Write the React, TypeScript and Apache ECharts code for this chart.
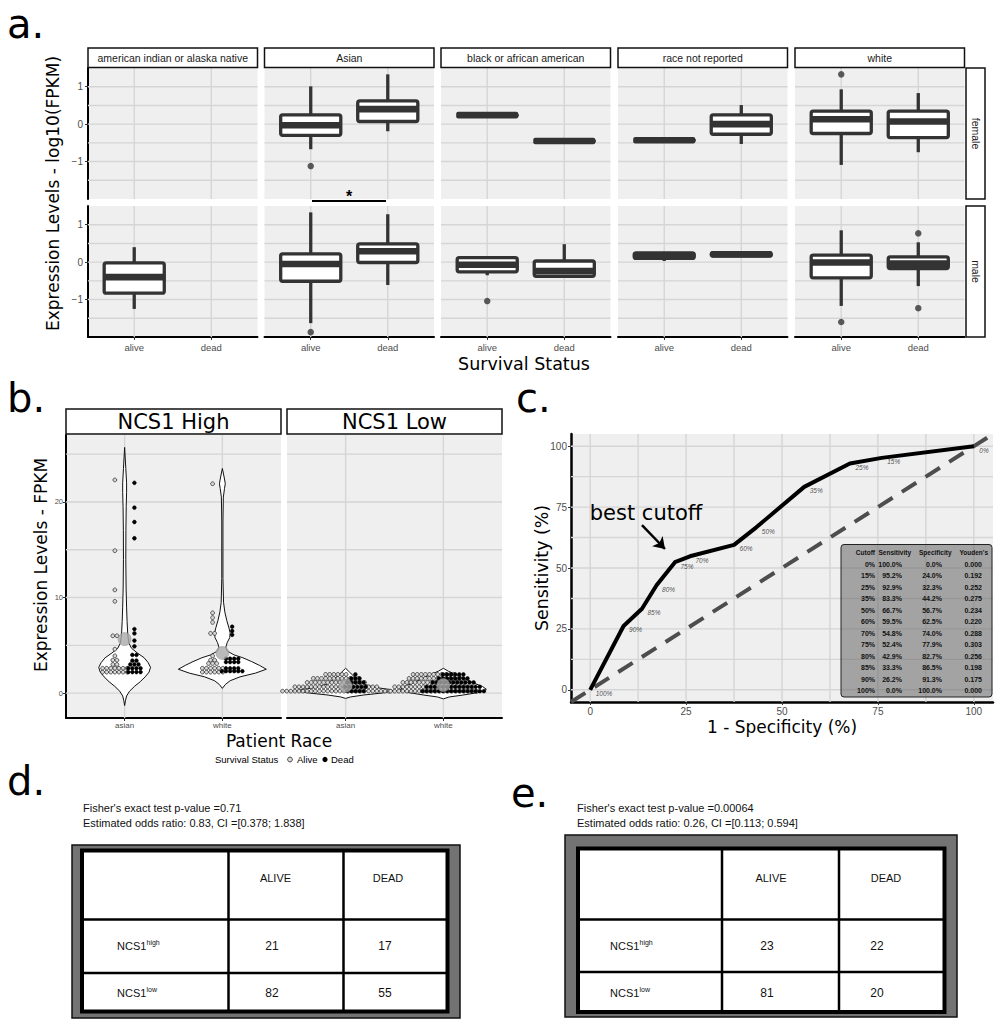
import React, { useEffect, useRef } from "react";
import * as echarts from "echarts";

// ---------------- Panel a: boxplots by race / sex / survival ----------------
const RACES = [
  "american indian or alaska native",
  "Asian",
  "black or african american",
  "race not reported",
  "white",
];
const SEXES = ["female", "male"];
const STATUS = ["alive", "dead"];
const A_Y_TICKS = [-1, 0, 1];
const A_Y_GRID = [-1.5, -1, -0.5, 0, 0.5, 1];
// [lower whisker, Q1, median, Q3, upper whisker] as [alive, dead] for each race
const BOX_FEMALE: any[] = [
  [null, null],
  [[-0.67, -0.3, -0.03, 0.25, 1.01], [-0.19, 0.07, 0.4, 0.62, 1.33]],
  [[0.24, 0.24, 0.24, 0.24, 0.24], [-0.45, -0.45, -0.45, -0.45, -0.45]],
  [[-0.43, -0.43, -0.43, -0.43, -0.43], [-0.53, -0.27, 0.0, 0.25, 0.51]],
  [[-1.09, -0.25, 0.13, 0.35, 0.93], [-0.75, -0.36, 0.07, 0.35, 0.83]],
];
const BOX_MALE: any[] = [
  [[-1.25, -0.83, -0.4, -0.02, 0.4], null],
  [[-1.63, -0.51, -0.05, 0.22, 1.33], [-0.61, -0.01, 0.29, 0.49, 1.28]],
  [[-0.35, -0.26, -0.07, 0.12, 0.12], [-0.38, -0.38, -0.24, 0.03, 0.48]],
  [[0.03, 0.1, 0.18, 0.25, 0.25], [0.16, 0.16, 0.21, 0.25, 0.25]],
  [[-1.17, -0.42, -0.01, 0.19, 0.85], [-0.64, -0.17, -0.04, 0.14, 0.53]],
];
const OUT_FEMALE = [[[], []], [[-1.12], []], [[], []], [[], []], [[1.33], []]];
const OUT_MALE = [[[], []], [[-1.87], []], [[-1.04], []], [[], []], [[-1.6], [0.77, -1.23]]];

// ---------------- Panel b: violins + dot plots ----------------
const B_GROUPS = ["NCS1 High", "NCS1 Low"];
const B_RACES = ["asian", "white"];
const B_Y_TICKS = [0, 10, 20];
const B_Y_GRID = [0, 5, 10, 15, 20, 25];
// dot rows: [FPKM value, number of stacked dots]
const HIGH_ASIAN_ALIVE = [[22.3, 1], [14.9, 1], [10.8, 1], [9.6, 1], [6.0, 2], [4.6, 1], [3.9, 1], [3.45, 2], [3.0, 2], [2.6, 7], [2.2, 7]];
const HIGH_ASIAN_DEAD = [[22.0, 1], [19.4, 1], [17.9, 1], [16.2, 1], [6.7, 1], [6.25, 1], [5.5, 1], [4.9, 1], [4.0, 2], [3.4, 2], [3.0, 3], [2.6, 4], [2.2, 4]];
const HIGH_WHITE_ALIVE = [[21.9, 1], [8.4, 1], [7.9, 1], [7.4, 1], [6.25, 2], [3.9, 1], [3.45, 2], [3.1, 3], [2.6, 6], [2.2, 6]];
const HIGH_WHITE_DEAD = [[6.95, 1], [6.5, 1], [6.1, 1], [3.6, 4], [3.25, 4], [2.6, 4], [2.3, 6]];
const LOW_ASIAN_ALIVE = [[0.21, 27], [0.66, 21], [1.12, 15], [1.54, 12], [1.96, 6]];
const LOW_ASIAN_DEAD = [[0.21, 5], [0.66, 6], [1.12, 5], [1.54, 3], [1.96, 1]];
const LOW_WHITE_ALIVE = [[0.21, 22], [0.66, 20], [1.12, 16], [1.54, 13], [1.96, 11]];
const LOW_WHITE_DEAD = [[0.21, 16], [0.66, 14], [1.12, 11], [1.54, 8], [1.96, 6]];
// violin outlines: [value, half width in category units]
const VIOLIN_HIGH_ASIAN = [[-1.3, 0], [-0.8, 0.008], [-0.3, 0.02], [0.2, 0.05], [0.7, 0.1], [1.2, 0.16], [1.7, 0.21], [2.2, 0.25], [2.7, 0.265], [3.2, 0.24], [3.7, 0.2], [4.2, 0.13], [4.7, 0.07], [5.2, 0.045], [5.8, 0.035], [6.5, 0.03], [7.5, 0.025], [9, 0.02], [11, 0.015], [14, 0.012], [17, 0.013], [19.5, 0.016], [21, 0.02], [22, 0.02], [23.5, 0.012], [25.7, 0]];
const VIOLIN_HIGH_WHITE = [[0.5, 0], [0.9, 0.03], [1.3, 0.08], [1.7, 0.18], [2.1, 0.34], [2.5, 0.45], [2.9, 0.38], [3.3, 0.3], [3.7, 0.21], [4.0, 0.12], [4.4, 0.05], [4.8, 0.035], [5.3, 0.05], [5.8, 0.075], [6.3, 0.08], [6.9, 0.065], [7.6, 0.045], [8.5, 0.025], [9.5, 0.012], [12, 0.006], [18, 0.006], [20.5, 0.01], [21.4, 0.022], [21.9, 0.03], [22.5, 0.02], [23.5, 0]];
const VIOLIN_LOW_ASIAN = [[-0.55, 0], [-0.4, 0.05], [-0.2, 0.18], [0, 0.36], [0.2, 0.5], [0.4, 0.44], [0.6, 0.3], [0.9, 0.2], [1.3, 0.14], [1.8, 0.08], [2.2, 0.04], [2.6, 0]];
const VIOLIN_LOW_WHITE = [[-0.6, 0], [-0.4, 0.06], [-0.2, 0.2], [0.1, 0.38], [0.4, 0.44], [0.7, 0.4], [1.1, 0.3], [1.5, 0.22], [1.9, 0.14], [2.3, 0.05], [2.6, 0]];
const MEAN_HIGH = [5.65, 4.2];
const MEAN_LOW = [0.77, 0.84];

// ---------------- Panel c: ROC ----------------
const CUT_LABELS = ["0%", "15%", "25%", "35%", "50%", "60%", "70%", "75%", "80%", "85%", "90%", "100%"];
const CUT_SENS = [100.0, 95.2, 92.9, 83.3, 66.7, 59.5, 54.8, 52.4, 42.9, 33.3, 26.2, 0.0];
const CUT_SPEC = [0.0, 24.0, 32.3, 44.2, 56.7, 62.5, 74.0, 77.9, 82.7, 86.5, 91.3, 100.0];
const CUT_YOUDEN = ["0.000", "0.192", "0.252", "0.275", "0.234", "0.220", "0.288", "0.303", "0.256", "0.198", "0.175", "0.000"];
const C_TICKS = [0, 25, 50, 75, 100];
const C_GRID = [0, 12.5, 25, 37.5, 50, 62.5, 75, 87.5, 100];
const TABLE_HEAD = ["Cutoff", "Sensitivity", "Specificity", "Youden's"];

// ---------------- Panels d / e: contingency tables ----------------
const TAB_COLS = ["ALIVE", "DEAD"];
const TAB_ROWS = ["high", "low"];
const D_COUNTS = [[21, 17], [82, 55]];
const E_COUNTS = [[23, 22], [81, 20]];
const D_STATS = ["Fisher's exact test p-value =0.71", "Estimated odds ratio: 0.83, CI =[0.378; 1.838]"];
const E_STATS = ["Fisher's exact test p-value =0.00064", "Estimated odds ratio: 0.26, CI =[0.113; 0.594]"];

// ---------------- styles ----------------
const DARK = "#333333";
const PANEL_BG = "#EFEFEF";
const GRID_C = "#D5D5D5";
const TICK_C = "#4D4D4D";
const DEJAVU = "'DejaVu Sans', sans-serif";
const SANS = "'Liberation Sans', Arial, sans-serif";

const near = (a: number, b: number) => Math.abs(a - b) < 1e-6;

function T(x: number, y: number, text: string, fontSize: number, o: any = {}) {
  const align = o.align || "center";
  const v = o.v || "middle";
  return {
    type: "text", x, y, rotation: o.rotation || 0, z: 100, silent: true,
    style: {
      text, fontSize, fontFamily: o.family || SANS, fontWeight: o.weight || "normal",
      fontStyle: o.italic ? "italic" : "normal", fill: o.fill || "#000",
      align, verticalAlign: v, textAlign: align, textVerticalAlign: v,
    },
  };
}
function R(x: number, y: number, w: number, h: number, fill: string, stroke: string, lw: number, r = 0, z = 50) {
  return { type: "rect", z, silent: true, shape: { x, y, width: w, height: h, r }, style: { fill, stroke, lineWidth: lw } };
}
function L(x1: number, y1: number, x2: number, y2: number, stroke: string, lw: number, z = 60) {
  return { type: "line", z, silent: true, shape: { x1, y1, x2, y2 }, style: { stroke, lineWidth: lw } };
}

function gridLines(idx: number, hVals: number[], vVals: number[], xRef: number, yRef: number) {
  const data = [...hVals.map((v) => [xRef, v, 0]), ...vVals.map((v) => [v, yRef, 1])];
  return {
    type: "custom", xAxisIndex: idx, yAxisIndex: idx, z: 1, silent: true, data,
    renderItem: (params: any, api: any) => {
      const cs = params.coordSys;
      const p = api.coord([api.value(0), api.value(1)]);
      const shape = api.value(2) === 0
        ? { x1: cs.x, y1: p[1], x2: cs.x + cs.width, y2: p[1] }
        : { x1: p[0], y1: cs.y, x2: p[0], y2: cs.y + cs.height };
      return { type: "line", shape, style: { stroke: GRID_C, lineWidth: 1.4 } };
    },
  };
}

const BOX_W = 0.78;
function boxRender(params: any, api: any) {
  const x = api.value(0);
  const lw = api.value(1), q1 = api.value(2), md = api.value(3), q3 = api.value(4), hw = api.value(5);
  const pl = api.coord([x - BOX_W / 2, q3]);
  const pr = api.coord([x + BOX_W / 2, q1]);
  const pm = api.coord([x, md]);
  const pLw = api.coord([x, lw]);
  const pHw = api.coord([x, hw]);
  const st = { stroke: DARK, lineWidth: 3.3 };
  return {
    type: "group",
    children: [
      { type: "line", shape: { x1: pm[0], y1: pHw[1], x2: pm[0], y2: pl[1] }, style: st },
      { type: "line", shape: { x1: pm[0], y1: pr[1], x2: pm[0], y2: pLw[1] }, style: st },
      { type: "rect", shape: { x: pl[0], y: pl[1], width: pr[0] - pl[0], height: pr[1] - pl[1], r: 2 }, style: { fill: "#fff", ...st, lineJoin: "round" } },
      { type: "rect", shape: { x: pl[0] - 1, y: pm[1] - 3.3, width: pr[0] - pl[0] + 2, height: 6.6, r: 2 }, style: { fill: DARK } },
    ],
  };
}

function violinSeries(idx: number, center: number, profile: number[][]) {
  return {
    type: "custom", xAxisIndex: idx, yAxisIndex: idx, z: 3, silent: true,
    data: [[center, profile[0][0]]],
    renderItem: (params: any, api: any) => {
      const c = api.value(0);
      const right = profile.map(([v, w]) => api.coord([c + w, v]));
      const left = profile.slice().reverse().map(([v, w]) => api.coord([c - w, v]));
      return { type: "polygon", shape: { points: right.concat(left) }, style: { fill: "#fff", stroke: "#111", lineWidth: 1 } };
    },
  };
}

const DOT_STEP = 4.1;
const DOT_R = 1.9;
function dotSeries(idx: number, center: number, rows: number[][], alive: boolean) {
  return {
    type: "custom", xAxisIndex: idx, yAxisIndex: idx, z: 4, silent: true,
    data: rows.map(([v, n]) => [center, v, n]),
    renderItem: (params: any, api: any) => {
      const p = api.coord([api.value(0), api.value(1)]);
      const n = api.value(2);
      const children: any[] = [];
      for (let i = 0; i < n; i++) {
        children.push({
          type: "circle",
          shape: { cx: p[0] + (i - (n - 1) / 2) * DOT_STEP, cy: p[1], r: DOT_R },
          style: alive ? { fill: "#D9D9D9", stroke: "#1a1a1a", lineWidth: 0.7 } : { fill: "#000", stroke: "#000", lineWidth: 0.5 },
        });
      }
      return { type: "group", children };
    },
  };
}

function buildOption() {
  const grid: any[] = [], xAxis: any[] = [], yAxis: any[] = [], series: any[] = [], g: any[] = [];

  // ---------- panel a ----------
  const A_COL_X = [88, 264.5, 441, 618, 795];
  const A_W = 169.5;
  const A_ROW_Y = [68, 206];
  const A_H = 131;
  for (let r = 0; r < 2; r++) {
    for (let c = 0; c < 5; c++) {
      const idx = r * 5 + c;
      grid.push({ left: A_COL_X[c], top: A_ROW_Y[r], width: A_W, height: A_H, show: true, backgroundColor: PANEL_BG, borderWidth: 0 });
      xAxis.push({
        gridIndex: idx, type: "value", min: 0.4, max: 2.6, interval: 0.2, splitLine: { show: false },
        axisLine: { show: r === 1, onZero: false, lineStyle: { color: "#000", width: 2 } },
        axisTick: { show: r === 1, customValues: [1, 2], length: 3, lineStyle: { color: "#333" } },
        axisLabel: { show: r === 1, customValues: [1, 2], margin: 5, fontSize: 9.5, color: TICK_C,
          formatter: (v: number) => (near(v, 1) ? STATUS[0] : near(v, 2) ? STATUS[1] : "") },
      });
      yAxis.push({
        gridIndex: idx, type: "value", min: -2, max: 1.5, interval: 0.5, splitLine: { show: false },
        axisLine: { show: c === 0, onZero: false, lineStyle: { color: "#000", width: 2 } },
        axisTick: { show: c === 0, customValues: A_Y_TICKS, length: 3, lineStyle: { color: "#333" } },
        axisLabel: { show: c === 0, customValues: A_Y_TICKS, margin: 5, fontSize: 10, color: TICK_C,
          formatter: (v: number) => {
            const t = A_Y_TICKS.find((k) => near(k, v));
            if (t === undefined) return "";
            return t < 0 ? "\u2212" + Math.abs(t) : String(t);
          } },
      });
      series.push(gridLines(idx, A_Y_GRID, [1, 2], 1.5, 0));
      const boxes = r === 0 ? BOX_FEMALE[c] : BOX_MALE[c];
      const bdata: any[] = [];
      boxes.forEach((b: any, s: number) => { if (b) bdata.push([s + 1, ...b]); });
      series.push({
        type: "custom", xAxisIndex: idx, yAxisIndex: idx, z: 3, silent: true,
        dimensions: ["x", "lw", "q1", "md", "q3", "hw"], encode: { x: 0, y: [1, 2, 3, 4, 5] },
        data: bdata, renderItem: boxRender,
      });
      const outs = r === 0 ? OUT_FEMALE[c] : OUT_MALE[c];
      const odata: any[] = [];
      outs.forEach((arr: number[], s: number) => arr.forEach((v) => odata.push([s + 1, v])));
      series.push({ type: "scatter", xAxisIndex: idx, yAxisIndex: idx, z: 4, silent: true, symbolSize: 6.5, itemStyle: { color: DARK }, data: odata });
    }
  }
  // strips a
  for (let c = 0; c < 5; c++) {
    g.push(R(A_COL_X[c], 48, A_W, 19.5, "#fff", "#111", 1.5));
    g.push(T(A_COL_X[c] + A_W / 2, 58, RACES[c], 10.5, { fill: "#1A1A1A" }));
  }
  for (let r = 0; r < 2; r++) {
    g.push(R(966, A_ROW_Y[r], 19, A_H, "#fff", "#111", 1.5));
    g.push(T(975.5, A_ROW_Y[r] + A_H / 2, SEXES[r], 10.5, { rotation: -Math.PI / 2, fill: "#1A1A1A" }));
  }
  g.push(L(312, 201, 386, 201, "#000", 1.8));
  g.push(T(349, 196, "*", 16, { weight: "bold" }));
  g.push(T(53, 193.5, "Expression Levels - log10(FPKM)", 17, { family: DEJAVU, rotation: Math.PI / 2 }));
  g.push(T(524, 364, "Survival Status", 17.5, { family: DEJAVU }));
  g.push(T(7, 24, "a.", 40, { family: DEJAVU, align: "left" }));

  // ---------- panel b ----------
  const B_X = [66, 287];
  const B_W = 215;
  for (let p = 0; p < 2; p++) {
    const idx = 10 + p;
    grid.push({ left: B_X[p], top: 435, width: B_W, height: 283, show: true, backgroundColor: PANEL_BG, borderWidth: 0 });
    xAxis.push({
      gridIndex: idx, type: "value", min: 0.4, max: 2.6, interval: 0.2, splitLine: { show: false },
      axisLine: { show: true, onZero: false, lineStyle: { color: "#000", width: 2 } },
      axisTick: { show: true, customValues: [1, 2], length: 3, lineStyle: { color: "#333" } },
      axisLabel: { customValues: [1, 2], margin: 3, fontSize: 8, color: TICK_C,
        formatter: (v: number) => (near(v, 1) ? B_RACES[0] : near(v, 2) ? B_RACES[1] : "") },
    });
    yAxis.push({
      gridIndex: idx, type: "value", min: -2.6, max: 27, interval: 0.2, splitLine: { show: false },
      axisLine: { show: p === 0, onZero: false, lineStyle: { color: "#000", width: 2 } },
      axisTick: { show: p === 0, customValues: B_Y_TICKS, length: 3, lineStyle: { color: "#333" } },
      axisLabel: { show: p === 0, customValues: B_Y_TICKS, margin: 3, fontSize: 7.5, color: TICK_C,
        formatter: (v: number) => { const t = B_Y_TICKS.find((k) => near(k, v)); return t === undefined ? "" : String(t); } },
    });
    series.push(gridLines(idx, B_Y_GRID, [1, 2], 1.5, 0));
    const vio = p === 0 ? [VIOLIN_HIGH_ASIAN, VIOLIN_HIGH_WHITE] : [VIOLIN_LOW_ASIAN, VIOLIN_LOW_WHITE];
    series.push(violinSeries(idx, 1, vio[0]));
    series.push(violinSeries(idx, 2, vio[1]));
    const dots = p === 0
      ? [HIGH_ASIAN_ALIVE, HIGH_ASIAN_DEAD, HIGH_WHITE_ALIVE, HIGH_WHITE_DEAD]
      : [LOW_ASIAN_ALIVE, LOW_ASIAN_DEAD, LOW_WHITE_ALIVE, LOW_WHITE_DEAD];
    series.push(dotSeries(idx, 0.9, dots[0], true));
    series.push(dotSeries(idx, 1.1, dots[1], false));
    series.push(dotSeries(idx, 1.9, dots[2], true));
    series.push(dotSeries(idx, 2.1, dots[3], false));
    const means = p === 0 ? MEAN_HIGH : MEAN_LOW;
    series.push({
      type: "scatter", xAxisIndex: idx, yAxisIndex: idx, z: 6, silent: true, symbolSize: 13,
      itemStyle: { color: "#A9A9A9", borderColor: "#8C8C8C", borderWidth: 0.6 },
      data: [[1, means[0]], [2, means[1]]],
    });
    g.push(R(B_X[p], 409, B_W, 25, "#fff", "#111", 1.5));
    g.push(T(B_X[p] + B_W / 2, 422, B_GROUPS[p], 21, { family: DEJAVU }));
  }
  g.push(T(41, 565, "Expression Levels - FPKM", 17, { family: DEJAVU, rotation: Math.PI / 2 }));
  g.push(T(279, 741, "Patient Race", 17, { family: DEJAVU }));
  g.push(T(215, 759.5, "Survival Status", 9.5, { align: "left" }));
  g.push({ type: "circle", z: 100, silent: true, shape: { cx: 290, cy: 759.5, r: 2.4 }, style: { fill: "#D9D9D9", stroke: "#1a1a1a", lineWidth: 0.8 } });
  g.push(T(297, 759.5, "Alive", 9.5, { align: "left" }));
  g.push({ type: "circle", z: 100, silent: true, shape: { cx: 325, cy: 759.5, r: 2.6 }, style: { fill: "#000" } });
  g.push(T(331, 759.5, "Dead", 9.5, { align: "left" }));
  g.push(T(7, 398, "b.", 40, { family: DEJAVU, align: "left" }));

  // ---------- panel c ----------
  const ci = 12;
  grid.push({ left: 571, top: 434, width: 422, height: 268, show: true, backgroundColor: PANEL_BG, borderWidth: 0 });
  const cFmt = (v: number) => { const t = C_TICKS.find((k) => near(k, v)); return t === undefined ? "" : String(t); };
  xAxis.push({
    gridIndex: ci, type: "value", min: -5, max: 105, interval: 5, splitLine: { show: false },
    axisLine: { show: true, onZero: false, lineStyle: { color: "#000", width: 2.5 } },
    axisTick: { show: true, customValues: C_TICKS, length: 3, lineStyle: { color: "#333" } },
    axisLabel: { customValues: C_TICKS, margin: 4, fontSize: 10, color: TICK_C, formatter: cFmt },
  });
  yAxis.push({
    gridIndex: ci, type: "value", min: -5, max: 105, interval: 5, splitLine: { show: false },
    axisLine: { show: true, onZero: false, lineStyle: { color: "#000", width: 2.5 } },
    axisTick: { show: true, customValues: C_TICKS, length: 3, lineStyle: { color: "#333" } },
    axisLabel: { customValues: C_TICKS, margin: 4, fontSize: 10, color: TICK_C, formatter: cFmt },
  });
  series.push(gridLines(ci, C_GRID, C_GRID, 50, 50));
  series.push({
    type: "line", xAxisIndex: ci, yAxisIndex: ci, z: 3, silent: true, symbol: "none",
    data: [[-5, -5], [105, 105]],
    lineStyle: { color: "#4D4D4D", width: 4, type: [17, 11] },
  });
  const roc = CUT_SPEC.map((s, i) => [100 - s, CUT_SENS[i]]);
  series.push({
    type: "line", xAxisIndex: ci, yAxisIndex: ci, z: 4, silent: true, symbol: "none",
    data: roc, lineStyle: { color: "#000", width: 4, join: "round" },
    markLine: {
      silent: true, symbol: ["none", "arrow"], symbolSize: 11, animation: false,
      label: { show: false }, lineStyle: { color: "#000", width: 2.5, type: "solid" },
      data: [[{ coord: [13.5, 67.6] }, { coord: [19.5, 57.8] }]],
    },
  });
  series.push({
    type: "scatter", xAxisIndex: ci, yAxisIndex: ci, z: 5, silent: true, symbolSize: 1,
    itemStyle: { color: "rgba(0,0,0,0)" }, data: roc,
    label: { show: true, position: "right", distance: 5, offset: [0, 4], fontSize: 6.5, fontStyle: "italic", color: "#222",
      formatter: (p: any) => CUT_LABELS[p.dataIndex] },
  });
  g.push(T(542, 568, "Sensitivity (%)", 17.4, { family: DEJAVU, rotation: Math.PI / 2 }));
  g.push(T(782, 727, "1 - Specificity (%)", 17, { family: DEJAVU }));
  g.push(T(646, 513, "best cutoff", 21, { family: DEJAVU }));
  g.push(T(516, 398, "c.", 40, { family: DEJAVU, align: "left" }));
  // inset table
  g.push(R(841, 544.5, 151, 152.5, "rgba(100,100,100,0.55)", "#222", 1, 3, 90));
  const headX = [875, 911, 951.5, 988];
  TABLE_HEAD.forEach((h, j) => g.push(T(headX[j], 552.5, h, 6.5, { align: "right", weight: "bold", fill: "#111" })));
  const colX = [875, 902, 942, 982];
  CUT_LABELS.forEach((lab, i) => {
    const y = 564 + 11.5 * i;
    g.push(T(colX[0], y, lab, 7, { align: "right", weight: "bold", fill: "#111" }));
    g.push(T(colX[1], y, CUT_SENS[i].toFixed(1) + "%", 7, { align: "right", weight: "bold", fill: "#111" }));
    g.push(T(colX[2], y, CUT_SPEC[i].toFixed(1) + "%", 7, { align: "right", weight: "bold", fill: "#111" }));
    g.push(T(colX[3], y, CUT_YOUDEN[i], 7, { align: "right", weight: "bold", fill: "#111" }));
  });

  // ---------- panels d and e ----------
  const tables = [
    { label: "d.", lx: 7, ly: 781, tx: 83, stats: D_STATS, counts: D_COUNTS,
      outer: [72, 845, 388, 173], inner: [82, 850.5, 365.5, 161], cols: [228.5, 343.5], rows: [919.5, 973],
      hx: [275.5, 388], nx: 117, vx: [272, 385] },
    { label: "e.", lx: 511, ly: 793, tx: 577, stats: E_STATS, counts: E_COUNTS,
      outer: [565, 835, 392, 182], inner: [578, 848.5, 366.5, 163.5], cols: [722, 839], rows: [919.5, 972],
      hx: [771, 886], nx: 610, vx: [767, 877] },
  ];
  tables.forEach((t) => {
    g.push(T(t.lx, t.ly, t.label, 40, { family: DEJAVU, align: "left" }));
    g.push(T(t.tx, 808, t.stats[0], 11, { align: "left", fill: "#111" }));
    g.push(T(t.tx, 823, t.stats[1], 11, { align: "left", fill: "#111" }));
    g.push(R(t.outer[0], t.outer[1], t.outer[2], t.outer[3], "#737373", "#111", 1.5, 0, 40));
    g.push(R(t.inner[0], t.inner[1], t.inner[2], t.inner[3], "#fff", "#000", 4, 0, 41));
    const ix1 = t.inner[0], iy1 = t.inner[1], ix2 = t.inner[0] + t.inner[2], iy2 = t.inner[1] + t.inner[3];
    t.cols.forEach((x) => g.push(L(x, iy1, x, iy2, "#000", 2.5, 42)));
    t.rows.forEach((y) => g.push(L(ix1, y, ix2, y, "#000", 2.5, 42)));
    TAB_COLS.forEach((h, j) => g.push(T(t.hx[j], 878, h, 11, { fill: "#111" })));
    const rowY = [946, 993];
    TAB_ROWS.forEach((sup, i) => {
      g.push(T(t.nx, rowY[i], "NCS1", 11, { align: "left", fill: "#111" }));
      g.push(T(t.nx + 29.5, rowY[i] - 4, sup, 7, { align: "left", fill: "#111" }));
      t.counts[i].forEach((n, j) => g.push(T(t.vx[j], rowY[i], String(n), 12, { fill: "#111" })));
    });
  });

  return {
    animation: false,
    backgroundColor: "#fff",
    textStyle: { fontFamily: SANS },
    grid, xAxis, yAxis, series,
    graphic: { elements: g },
  };
}

export default function App() {
  const ref = useRef<HTMLDivElement>(null);
  useEffect(() => {
    const chart = echarts.init(ref.current as HTMLDivElement, null, { renderer: "svg", width: 1001, height: 1031 });
    chart.setOption(buildOption() as any);
    return () => chart.dispose();
  }, []);
  return <div ref={ref} style={{ position: "absolute", left: 0, top: 0, width: 1001, height: 1031, background: "#fff" }} />;
}
